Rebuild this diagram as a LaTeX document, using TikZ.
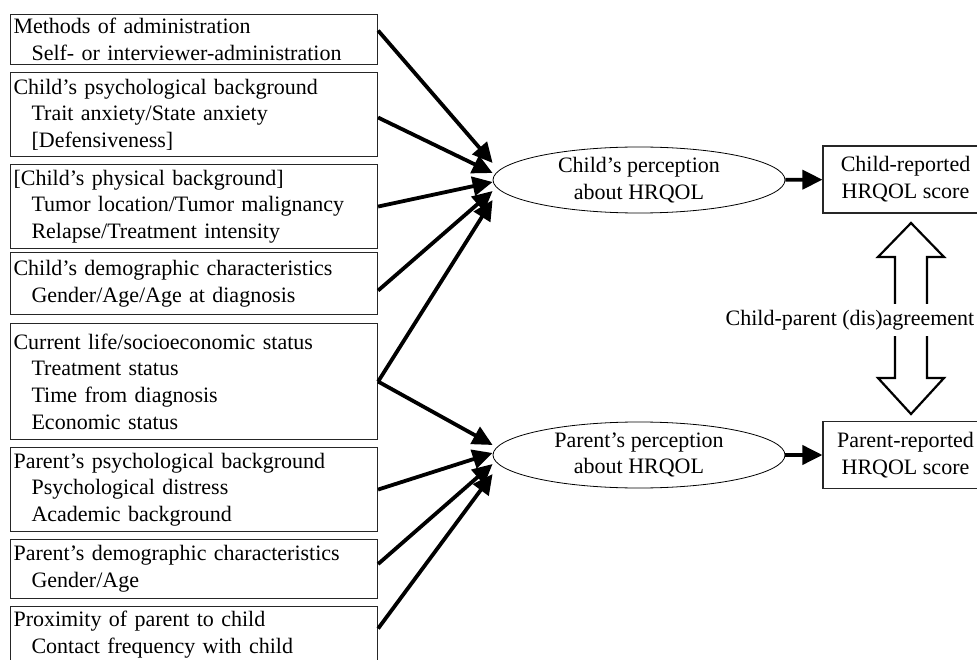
\documentclass[tikz,border=0pt]{standalone}
\usepackage{fontspec}
\setmainfont{Liberation Serif}
\usetikzlibrary{shapes.geometric, arrows.meta}
\newcommand{\sublevel}{\hspace*{18pt}}
\tikzset{
>={Triangle[length=20pt,width=19pt]}, % big filled heads
factor/.style={rectangle, draw=black!85, line width=1.1pt, anchor=north west,
  text width=361pt, inner xsep=3pt, inner ysep=0pt, align=left,
  font=\fontsize{22}{26.7}\selectfont},
perception/.style={ellipse, draw, line width=0.8pt, minimum width=292pt,
  minimum height=66pt, inner sep=0pt, align=center,
  font=\fontsize{22}{26.7}\selectfont},
score/.style={rectangle, draw=black!85, line width=1.1pt, minimum width=165pt,
  minimum height=67pt, inner sep=0pt, align=center,
  font=\fontsize{22}{26.7}\selectfont},
influence/.style={->, line width=3.8pt},
}
\begin{document}
\begin{tikzpicture}[x=1pt, y=-1pt]
        \useasboundingbox (0,0) rectangle (977,660);

        % factors on the left
        \node[factor, minimum height=50pt] (admin) at (10,14)
          {Methods of administration\\ \sublevel Self- or interviewer-administration};
        \node[factor, minimum height=84pt] (cpsy) at (10,72)
          {Child's psychological background\\ \sublevel Trait anxiety/State anxiety\\ \sublevel [Defensiveness]};
        \node[factor, minimum height=84pt] (cphys) at (10,164)
          {[Child's physical background]\\ \sublevel Tumor location/Tumor malignancy\\ \sublevel Relapse/Treatment intensity};
        \node[factor, minimum height=62pt] (cdemo) at (10,252)
          {Child's demographic characteristics\\ \sublevel Gender/Age/Age at diagnosis};
        \node[factor, minimum height=116pt] (status) at (10,323)
          {Current life/socioeconomic status\\ \sublevel Treatment status\\ \sublevel Time from diagnosis\\ \sublevel Economic status};
        \node[factor, minimum height=84pt] (ppsy) at (10,447)
          {Parent's psychological background\\ \sublevel Psychological distress\\ \sublevel Academic background};
        \node[factor, minimum height=59pt] (pdemo) at (10,539)
          {Parent's demographic characteristics\\ \sublevel Gender/Age};
        \node[factor, minimum height=56pt] (prox) at (10,606)
          {Proximity of parent to child\\ \sublevel Contact frequency with child};

        % perceptions and scores
        \node[perception] (child) at (639,180) {Child's perception\\about HRQOL};
        \node[perception] (parent) at (639,455) {Parent's perception\\about HRQOL};
        \node[score] (childscore) at (905.5,179.5) {Child-reported\\HRQOL score};
        \node[score] (parentscore) at (905.5,455) {Parent-reported\\HRQOL score};

        \draw[influence] ([yshift=9pt]admin.east) -- ([yshift=17pt]child.west);
        \draw[influence] ([yshift=-3pt]cpsy.east) -- ([yshift=7pt]child.west);
        \draw[influence] (cphys.east) -- ([yshift=-2pt]child.west);
        \draw[influence] ([yshift=-7pt]cdemo.east) -- ([yshift=-11pt]child.west);
        \draw[influence] (status.east) -- ([yshift=-20pt]child.west);
        \draw[influence] (status.east) -- ([yshift=10pt]parent.west);
        \draw[influence] (ppsy.east) -- ([yshift=2pt]parent.west);
        \draw[influence] ([yshift=5pt]pdemo.east) -- ([yshift=-9pt]parent.west);
        \draw[influence] ([yshift=6pt]prox.east) -- ([yshift=-19pt]parent.west);

        \draw[influence] (child) -- (childscore);
        \draw[influence] (parent) -- (parentscore);

        % block arrow for the (dis)agreement
        \draw[line width=2.2pt, line join=miter]
          (911,223) -- (944,257) -- (927,257) -- (927,378) -- (944,378)
          -- (911,414) -- (878,378) -- (895,378) -- (895,257) -- (878,257) -- cycle;
        \node[fill=white, inner xsep=2pt, inner ysep=6pt,
          font=\fontsize{22}{26.7}\selectfont] (agree) at (850,320)
          {Child-parent (dis)agreement};
\end{tikzpicture}
\end{document}
